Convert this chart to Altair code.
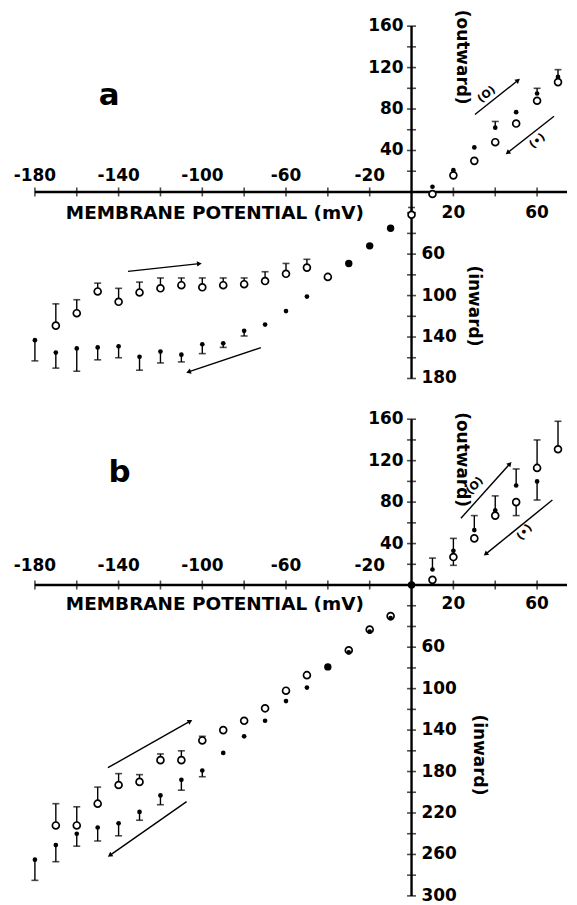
import math
import altair as alt
import pandas as pd

# ---------------- data (membrane potential mV, current) ----------------
# Panel a
A_OPEN_V = [-170, -160, -150, -140, -130, -120, -110, -100, -90, -80, -70, -60, -50, -40, 0, 10, 20, 30, 40, 50, 60, 70]
A_OPEN_I = [-129, -117, -96, -106, -97, -93, -90, -92, -90, -89, -86, -79, -73, -82, -22, -2, 16, 30, 48, 66, 88, 106]
A_OPEN_E = [-108, -104, -88, -93, -87, -83, -83, -83, -83, -83, -77, -69, -65, None, -15, None, None, None, None, None, None, None]
A_FILL_V = [-180, -170, -160, -150, -140, -130, -120, -110, -100, -90, -80, -70, -60, -50, 10, 20, 30, 40, 50, 60, 70]
A_FILL_I = [-143, -155, -151, -150, -149, -159, -154, -157, -147, -146, -134, -128, -115, -101, 5, 21, 43, 62, 77, 95, 111]
A_FILL_E = [-163, -170, -173, -162, -160, -172, -165, -164, -156, -150, -139, None, None, None, None, None, None, 68, None, 100, 118]
A_BOTH_V = [-30, -20, -10]
A_BOTH_I = [-69, -52, -35]

# Panel b
B_OPEN_V = [-170, -160, -150, -140, -130, -120, -110, -100, -90, -80, -70, -60, -50, -30, -20, -10, 10, 20, 30, 40, 50, 60, 70]
B_OPEN_I = [-232, -232, -211, -193, -190, -169, -169, -150, -140, -131, -119, -102, -87, -63, -43, -30, 5, 27, 45, 67, 80, 113, 131]
B_OPEN_E = [-211, -214, -195, -182, -183, -163, -160, -146, None, None, None, None, None, None, None, None, None, 19, None, None, 67, 140, 158]
B_FILL_V = [-180, -170, -160, -150, -140, -130, -120, -110, -100, -90, -80, -70, -60, -50, -30, -20, -10, 10, 20, 30, 40, 50, 60]
B_FILL_I = [-265, -251, -240, -234, -230, -219, -203, -188, -179, -162, -146, -131, -112, -99, -65, -45, -32, 15, 33, 53, 72, 96, 100]
B_FILL_E = [-285, -267, -252, -247, -242, -227, -212, -198, -185, None, None, None, None, None, None, None, None, 26, 45, 67, 86, 112, 82]
B_BOTH_V = [-40, 0]
B_BOTH_I = [-79, 0]

# axes
X_TICKS = [-180, -160, -140, -120, -100, -80, -60, -40, -20, 20, 40, 60]
X_LABELS_NEG = [-180, -140, -100, -60, -20]
X_LABELS_POS = [20, 60]
Y_POS_TICKS = [20, 40, 60, 80, 100, 120, 140, 160]
Y_POS_LABELS = [40, 80, 120, 160]
A_Y_NEG_TICKS = [20, 40, 60, 80, 100, 120, 140, 160, 180]
A_Y_NEG_LABELS = [60, 100, 140, 180]
B_Y_NEG_TICKS = [20, 40, 60, 80, 100, 120, 140, 160, 180, 200, 220, 240, 260, 280, 300]
B_Y_NEG_LABELS = [60, 100, 140, 180, 220, 260, 300]

# annotation arrows (start V, start I, end V, end I)
A_ARROWS = [(30.3, 74.7, 50.9, 107.7), (68.1, 73.0, 45.9, 37.8),
            (-135.5, -76.6, -101.4, -69.2), (-72.0, -150.3, -106.6, -173.7)]
B_ARROWS = [(23.6, 64.4, 47.0, 117.0), (67.3, 82.0, 35.4, 29.8),
            (-145.1, -176.3, -105.8, -131.4), (-107.5, -209.0, -144.2, -260.9)]
A_SYM_LABELS = [("(O)", 35.9, 94.0), ("(•)", 60.2, 49.0)]
B_SYM_LABELS = [("(O)", 30.3, 95.5), ("(•)", 54.1, 50.7)]

XMIN, XMAX = -192.86, 74.3
W = 561
FONT = "DejaVu Sans"


def panel(letter, letter_pos, ydom, height, y_axis_min, neg_ticks, neg_labels,
          open_v, open_i, open_e, fill_v, fill_i, fill_e, both_v, both_i,
          arrows, sym_labels, sym_angle, title_y, xlab_neg_y, xlab_pos_y,
          outward_y, inward_v, inward_y):
    xs = alt.Scale(domain=[XMIN, XMAX], nice=False, zero=False)
    ys = alt.Scale(domain=ydom, nice=False, zero=False)
    kx = W / (XMAX - XMIN)
    ky = height / (ydom[1] - ydom[0])

    def X(f):
        return alt.X(f + ":Q", scale=xs, axis=None)

    def Y(f):
        return alt.Y(f + ":Q", scale=ys, axis=None)

    layers = []
    # axis lines
    axes = pd.DataFrame({"x": [-180, 0], "x2": [XMAX, 0], "y": [0, y_axis_min], "y2": [0, 160]})
    layers.append(alt.Chart(axes).mark_rule(color="black", strokeWidth=2.4).encode(
        x=X("x"), x2="x2", y=Y("y"), y2="y2"))
    # x ticks
    xt = pd.DataFrame({"x": X_TICKS, "y": [0] * len(X_TICKS)})
    layers.append(alt.Chart(xt).mark_tick(orient="vertical", size=9, thickness=1.6, color="black").encode(
        x=X("x"), y=Y("y")))
    # y ticks
    yt_vals = Y_POS_TICKS + [-v for v in neg_ticks]
    yt = pd.DataFrame({"x": [0] * len(yt_vals), "y": yt_vals})
    layers.append(alt.Chart(yt).mark_tick(orient="horizontal", size=9, thickness=1.6, color="black").encode(
        x=X("x"), y=Y("y")))
    # tick labels
    tl_neg = pd.DataFrame({"x": X_LABELS_NEG, "y": [xlab_neg_y] * len(X_LABELS_NEG),
                           "t": [str(v) for v in X_LABELS_NEG]})
    layers.append(alt.Chart(tl_neg).mark_text(font=FONT, fontWeight="bold", fontSize=17,
                                              align="center", baseline="middle").encode(
        x=X("x"), y=Y("y"), text="t:N"))
    tl_pos = pd.DataFrame({"x": X_LABELS_POS, "y": [xlab_pos_y] * len(X_LABELS_POS),
                           "t": [str(v) for v in X_LABELS_POS]})
    layers.append(alt.Chart(tl_pos).mark_text(font=FONT, fontWeight="bold", fontSize=17,
                                              align="center", baseline="middle").encode(
        x=X("x"), y=Y("y"), text="t:N"))
    yl_pos = pd.DataFrame({"x": [0] * len(Y_POS_LABELS), "y": Y_POS_LABELS,
                           "t": [str(v) for v in Y_POS_LABELS]})
    layers.append(alt.Chart(yl_pos).mark_text(font=FONT, fontWeight="bold", fontSize=17,
                                              align="right", baseline="middle", dx=-8).encode(
        x=X("x"), y=Y("y"), text="t:N"))
    yl_neg = pd.DataFrame({"x": [0] * len(neg_labels), "y": [-v for v in neg_labels],
                           "t": [str(v) for v in neg_labels]})
    layers.append(alt.Chart(yl_neg).mark_text(font=FONT, fontWeight="bold", fontSize=17,
                                              align="left", baseline="middle", dx=10).encode(
        x=X("x"), y=Y("y"), text="t:N"))

    # error bars
    eb = []
    for v, i, e in list(zip(open_v, open_i, open_e)) + list(zip(fill_v, fill_i, fill_e)):
        if e is not None:
            eb.append({"x": v, "y": i, "y2": e})
    ebdf = pd.DataFrame(eb)
    layers.append(alt.Chart(ebdf).mark_rule(color="black", strokeWidth=1.4).encode(
        x=X("x"), y=Y("y"), y2="y2"))
    layers.append(alt.Chart(ebdf).mark_tick(orient="horizontal", size=7, thickness=1.6, color="black").encode(
        x=X("x"), y=Y("y2")))

    # points
    od = pd.DataFrame({"x": open_v, "y": open_i})
    layers.append(alt.Chart(od).mark_point(shape="circle", size=48, filled=False, fill="white",
                                           fillOpacity=1, stroke="black", strokeWidth=1.7, opacity=1).encode(
        x=X("x"), y=Y("y")))
    fd = pd.DataFrame({"x": fill_v, "y": fill_i})
    layers.append(alt.Chart(fd).mark_point(shape="circle", size=22, filled=True, color="black", opacity=1).encode(
        x=X("x"), y=Y("y")))
    bd = pd.DataFrame({"x": both_v, "y": both_i})
    layers.append(alt.Chart(bd).mark_point(shape="circle", size=55, filled=True, color="black", opacity=1).encode(
        x=X("x"), y=Y("y")))

    # arrows
    ad = pd.DataFrame([{"x": a[0], "y": a[1], "x2": a[2], "y2": a[3],
                        "ang": math.degrees(math.atan2((a[2] - a[0]) * kx, (a[3] - a[1]) * ky)) % 360}
                       for a in arrows])
    layers.append(alt.Chart(ad).mark_rule(color="black", strokeWidth=1.4).encode(
        x=X("x"), y=Y("y"), x2="x2", y2="y2"))
    layers.append(alt.Chart(ad).mark_point(shape="triangle-up", size=30, filled=True, color="black",
                                           opacity=1).encode(
        x=X("x2"), y=Y("y2"), angle=alt.Angle("ang:Q", scale=None)))
    sd = pd.DataFrame([{"t": s[0], "x": s[1], "y": s[2]} for s in sym_labels])
    layers.append(alt.Chart(sd).mark_text(font=FONT, fontWeight="bold", fontSize=11, angle=sym_angle,
                                          align="center", baseline="middle").encode(
        x=X("x"), y=Y("y"), text="t:N"))

    # texts
    td = pd.DataFrame({"x": [-94.0], "y": [title_y], "t": ["MEMBRANE POTENTIAL (mV)"]})
    layers.append(alt.Chart(td).mark_text(font=FONT, fontWeight="bold", fontSize=18.5,
                                          align="center", baseline="middle").encode(
        x=X("x"), y=Y("y"), text="t:N"))
    ld = pd.DataFrame({"x": [letter_pos[0]], "y": [letter_pos[1]], "t": [letter]})
    layers.append(alt.Chart(ld).mark_text(font=FONT, fontWeight="bold", fontSize=31,
                                          align="center", baseline="alphabetic").encode(
        x=X("x"), y=Y("y"), text="t:N"))
    rd = pd.DataFrame({"x": [24.0, inward_v], "y": [outward_y, inward_y], "t": ["(outward)", "(inward)"]})
    layers.append(alt.Chart(rd).mark_text(font=FONT, fontWeight="bold", fontSize=17, angle=90,
                                          align="center", baseline="middle").encode(
        x=X("x"), y=Y("y"), text="t:N"))

    return alt.layer(*layers).properties(width=W, height=height)


pa = panel("a", (-144.5, 83.7), [-204.8, 172.1], 392, -180, A_Y_NEG_TICKS, A_Y_NEG_LABELS,
           A_OPEN_V, A_OPEN_I, A_OPEN_E, A_FILL_V, A_FILL_I, A_FILL_E, A_BOTH_V, A_BOTH_I,
           A_ARROWS, A_SYM_LABELS, 321, -20.5, 15.0, -20.5, 130.0, 29.7, -110.0)
pb = panel("b", (-139.5, 99.5), [-303.4, 174.5], 497, -300, B_Y_NEG_TICKS, B_Y_NEG_LABELS,
           B_OPEN_V, B_OPEN_I, B_OPEN_E, B_FILL_V, B_FILL_I, B_FILL_E, B_BOTH_V, B_BOTH_I,
           B_ARROWS, B_SYM_LABELS, 312, -18.0, 18.5, -18.0, 121.0, 32.3, -164.0)

chart = alt.vconcat(pa, pb, spacing=0, bounds="flush").properties(
    padding=0, background="white"
).configure_view(stroke=None)

chart.save("out.html", embed_options={"renderer": "svg", "actions": False})
